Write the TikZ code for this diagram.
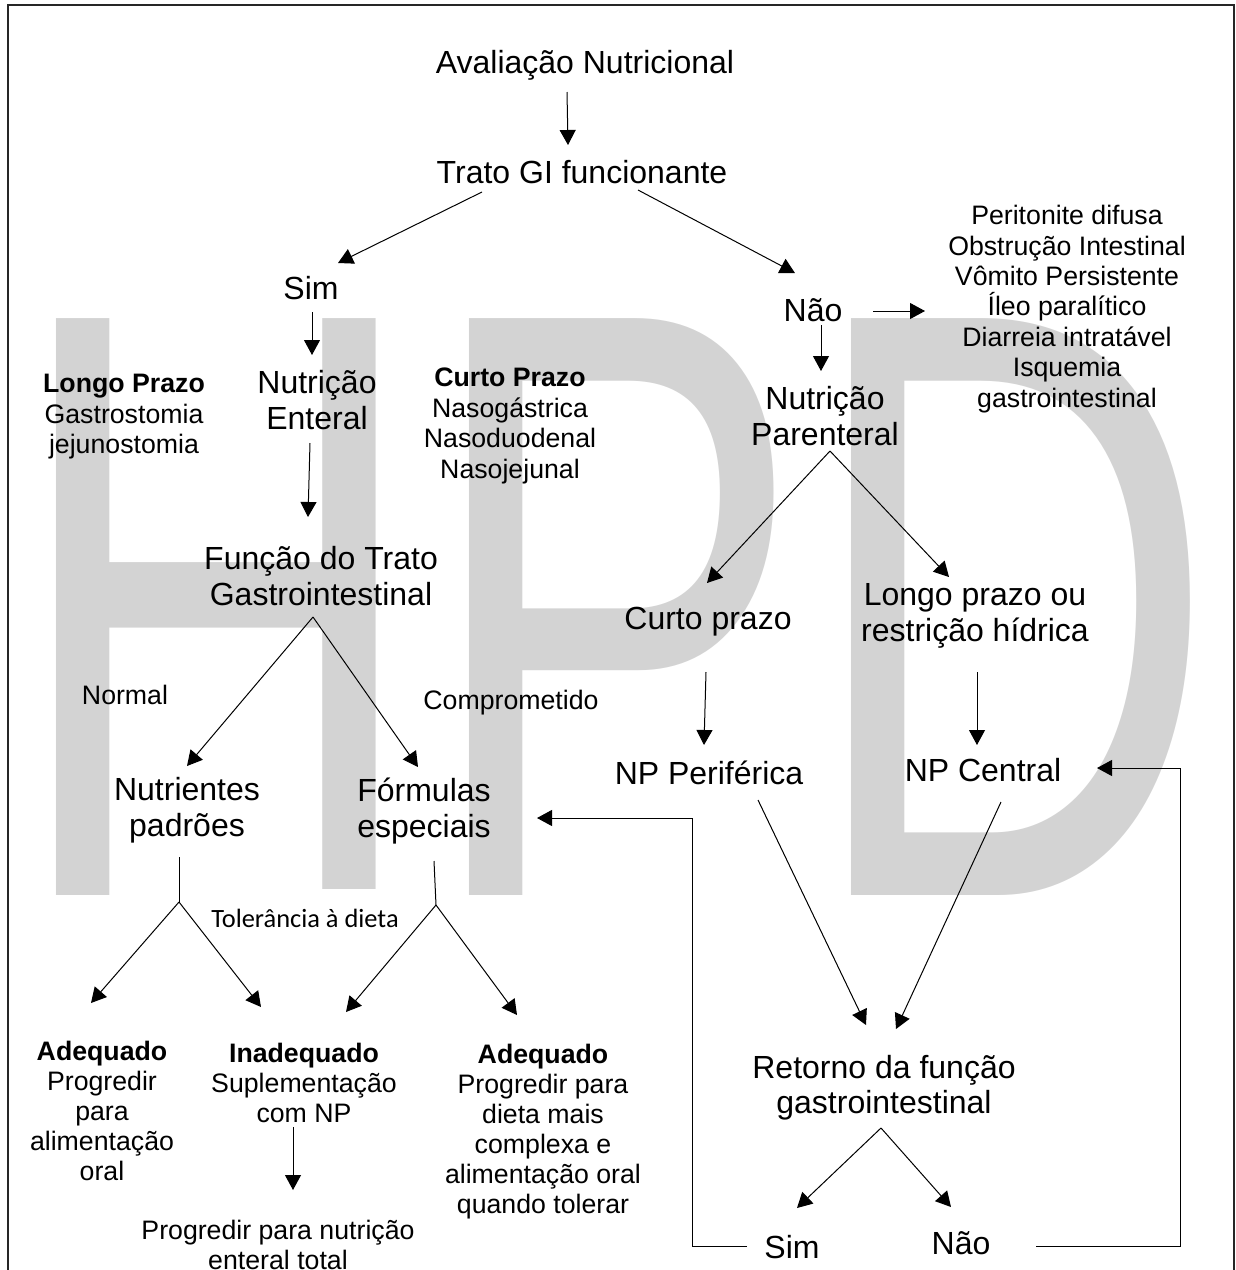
\documentclass[tikz,border=0pt]{standalone}
\usepackage{graphicx}
\usepackage{fontspec}
\setmainfont{Liberation Sans}
\newfontfamily\calibfont{Carlito}
\usetikzlibrary{arrows.meta}
\definecolor{wm}{RGB}{211,211,211}
\begin{document}
\begin{tikzpicture}[x=0.5pt,y=-0.5pt,
  big/.style={font=\fontsize{16}{18}\selectfont, inner sep=0pt, align=center},
  one/.style={big, text height=11.5pt, text depth=0pt},
  small/.style={font=\fontsize{13.35}{15.25}\selectfont, inner sep=0pt, align=center},
  smallone/.style={small, text height=9.6pt, text depth=0pt},
  arr/.style={-{Triangle[length=7.5pt,width=8pt]}, line width=0.5pt},
  ln/.style={line width=0.5pt}]
\useasboundingbox (0,0) rectangle (1236,1270);
% watermark
\node[anchor=base west, inner sep=0pt, text=wm, font=\fontsize{419.3}{420}\selectfont] (wmk) at (9,895) {\scalebox{0.6824}[1]{HPD}};
% frame
\draw[line width=0.8pt, draw=black!85] (8,1290) -- (8,5) -- (1234,5) -- (1234,1290);
% nodes
\node[one] (aval) at (585,62) {Avaliação Nutricional};
\node[one] (trato) at (582,172) {Trato GI funcionante};
\node[one] (sim1) at (311,288) {Sim};
\node[one] (nao1) at (813,310) {Não};
\node[big] (ent) at (317,400) {Nutrição\\Enteral};
\node[big] (par) at (825,416) {Nutrição\\Parenteral};
\node[small, font=\fontsize{13.35}{15.2}\selectfont] (lista) at (1067,309) {Peritonite difusa\\Obstrução Intestinal\\Vômito Persistente\\Íleo paralítico\\Diarreia intratável\\Isquemia\\gastrointestinal};
\node[small] (longo) at (124,417) {\textbf{Longo Prazo}\\Gastrostomia\\jejunostomia};
\node[small] (curto) at (510,426) {\textbf{Curto Prazo}\\Nasogástrica\\Nasoduodenal\\Nasojejunal};
\node[big] (func) at (321,576) {Função do Trato\\Gastrointestinal};
\node[smallone] (normal) at (125,695) {Normal};
\node[smallone] (comp) at (511,700) {Comprometido};
\node[one] (cp) at (708,618) {Curto prazo};
\node[big] (lp) at (975,616) {Longo prazo ou\\restrição hídrica};
\node[one] (npp) at (709,773) {NP Periférica};
\node[one] (npc) at (983,770) {NP Central};
\node[big] (nut) at (187,810) {Nutrientes\\padrões};
\node[big] (form) at (424,811) {Fórmulas\\especiais};
\node[anchor=base, inner sep=0pt, fill=white, text height=19.25pt, text depth=2pt, font=\calibfont\fontsize{13.2}{15}\selectfont] (tol) at (305,927.5) {Tolerância à dieta};
\node[small, font=\fontsize{13.35}{15}\selectfont] (ad1) at (102,1111) {\textbf{Adequado}\\Progredir\\para\\alimentação\\oral};
\node[small, font=\fontsize{13.35}{15}\selectfont] (inad) at (304,1083) {\textbf{Inadequado}\\Suplementação\\com NP};
\node[small, font=\fontsize{13.35}{15}\selectfont] (ad2) at (543,1132) {\textbf{Adequado}\\Progredir para\\dieta mais\\complexa e\\alimentação oral\\quando tolerar};
\node[small, font=\fontsize{13.35}{15}\selectfont] (prog) at (278,1245) {Progredir para nutrição\\enteral total};
\node[big, font=\fontsize{16}{17.5}\selectfont] (ret) at (884,1088) {Retorno da função\\gastrointestinal};
\node[one] (sim2) at (792,1247) {Sim};
\node[one] (nao2) at (961,1243) {Não};
% connector end points
\coordinate (a1s) at (567,92);   \coordinate (a1e) at (568,145);
\coordinate (a2s) at (482,192);  \coordinate (a2e) at (338,263);
\coordinate (a3s) at (638,190);  \coordinate (a3e) at (795,273);
\coordinate (a4s) at (312,312);  \coordinate (a4e) at (312,355);
\coordinate (a5s) at (873,311);  \coordinate (a5e) at (925,311);
\coordinate (a6s) at (821,325);  \coordinate (a6e) at (821,371);
\coordinate (a7s) at (310,443);  \coordinate (a7e) at (308,517);
\coordinate (fj) at (313,617);
\coordinate (a8e) at (187,766);  \coordinate (a9e) at (418,767);
\coordinate (pj) at (830,451);
\coordinate (a10e) at (707,583); \coordinate (a11e) at (949,577);
\coordinate (a12s) at (706,672); \coordinate (a12e) at (704,745);
\coordinate (a13s) at (977,672); \coordinate (a13e) at (977,745);
\coordinate (nt) at (179,857);   \coordinate (nj) at (179,902);
\coordinate (b1e) at (91,1003);  \coordinate (b2e) at (261,1007);
\coordinate (ft) at (434,861);   \coordinate (fjj) at (436,905);
\coordinate (b3e) at (346,1012); \coordinate (b4e) at (517,1015);
\coordinate (a16s) at (293,1127); \coordinate (a16e) at (293,1190);
\coordinate (a17s) at (758,800); \coordinate (a17e) at (866,1025);
\coordinate (a18s) at (1001,802); \coordinate (a18e) at (896,1029);
\coordinate (rj) at (881,1128);
\coordinate (a19e) at (797,1208); \coordinate (a20e) at (951,1207);
\coordinate (f1s) at (747,1246); \coordinate (f1a) at (692,1246); \coordinate (f1b) at (692,818); \coordinate (f1e) at (537,818);
\coordinate (f2s) at (1036,1246); \coordinate (f2a) at (1180,1246); \coordinate (f2b) at (1180,768); \coordinate (f2e) at (1097,768);
% connectors
\draw[arr] (a1s) -- (a1e);
\draw[arr] (a2s) -- (a2e);
\draw[arr] (a3s) -- (a3e);
\draw[arr] (a4s) -- (a4e);
\draw[arr] (a5s) -- (a5e);
\draw[arr] (a6s) -- (a6e);
\draw[arr] (a7s) -- (a7e);
\draw[arr] (fj) -- (a8e);
\draw[arr] (fj) -- (a9e);
\draw[arr] (pj) -- (a10e);
\draw[arr] (pj) -- (a11e);
\draw[arr] (a12s) -- (a12e);
\draw[arr] (a13s) -- (a13e);
\draw[ln] (nt) -- (nj);
\draw[arr] (nj) -- (b1e);
\draw[arr] (nj) -- (b2e);
\draw[ln] (ft) -- (fjj);
\draw[arr] (fjj) -- (b3e);
\draw[arr] (fjj) -- (b4e);
\draw[arr] (a16s) -- (a16e);
\draw[arr] (a17s) -- (a17e);
\draw[arr] (a18s) -- (a18e);
\draw[arr] (rj) -- (a19e);
\draw[arr] (rj) -- (a20e);
\draw[arr] (f1s) -- (f1a) -- (f1b) -- (f1e);
\draw[arr] (f2s) -- (f2a) -- (f2b) -- (f2e);
\end{tikzpicture}
\end{document}
